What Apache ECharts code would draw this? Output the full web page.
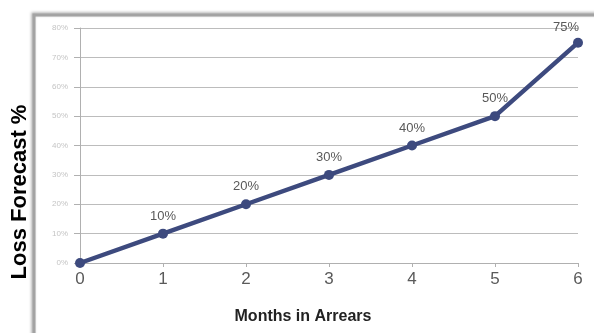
<!DOCTYPE html>
<html><head><meta charset="utf-8">
<script src="https://cdn.jsdelivr.net/npm/echarts@6/dist/echarts.min.js"></script>
<style>html,body{margin:0;padding:0;background:#fff}#c{width:594px;height:333px}</style>
</head><body><div id="c"></div>
<script>
const months = [0, 1, 2, 3, 4, 5, 6];
const lossForecast = [0, 10, 20, 30, 40, 50, 75];
const yTicks = [0, 10, 20, 30, 40, 50, 60, 70, 80];

const chart = echarts.init(document.getElementById('c'), null, {renderer: 'canvas'});
chart.setOption({
  animation: false,
  backgroundColor: '#fff',
  grid: {left: 80, right: 16, top: 28, bottom: 70},
  graphic: [
    {type: 'rect', z: 0, shape: {x: 34, y: 15, width: 640, height: 400},
     style: {fill: 'none', stroke: '#a3a3a3', lineWidth: 3, shadowColor: 'rgba(0,0,0,0.35)', shadowBlur: 3, shadowOffsetX: -1, shadowOffsetY: -1}},
    {type: 'text', z: 10, x: 20, y: 192, rotation: Math.PI / 2, originX: 0, originY: 0,
     style: {text: 'Loss Forecast %', font: 'bold 22px "Liberation Sans", Arial, sans-serif', fill: '#000', align: 'center', verticalAlign: 'middle'}},
    {type: 'text', z: 10, x: 303, y: 317,
     style: {text: 'Months in Arrears', font: 'bold 16px "Liberation Sans", Arial, sans-serif', fill: '#222', align: 'center', verticalAlign: 'middle'}}
  ],
  xAxis: {
    type: 'value', min: 0, max: 6, interval: 1,
    axisLine: {lineStyle: {color: '#b0b0b0', width: 1}},
    axisTick: {show: true, length: 4, lineStyle: {color: '#b0b0b0'}},
    axisLabel: {color: '#5a5a5a', fontSize: 17, margin: 8, fontFamily: '"Liberation Sans", Arial, sans-serif'},
    splitLine: {show: false}
  },
  yAxis: {
    type: 'value', min: 0, max: 80, interval: 10,
    axisLine: {show: true, lineStyle: {color: '#b0b0b0', width: 1}},
    axisTick: {show: true, length: 6, lineStyle: {color: '#b0b0b0'}},
    axisLabel: {color: '#c4c4c4', fontSize: 8, margin: 12, formatter: v => v + '%', fontFamily: '"Liberation Sans", Arial, sans-serif'},
    splitLine: {show: true, lineStyle: {color: '#bcbcbc', width: 1}}
  },
  series: [{
    type: 'line',
    data: months.map((m, i) => {
      const d = {value: [m, lossForecast[i]]};
      if (i === 0) d.label = {show: false};
      if (i === months.length - 1) d.label = {offset: [-12, 2]};
      return d;
    }),
    lineStyle: {color: '#3d4a7e', width: 4.5},
    itemStyle: {color: '#3d4a7e'},
    symbol: 'circle', symbolSize: 10,
    label: {show: true, position: 'top', distance: 6, formatter: p => p.value[1] + '%', color: '#595959', fontSize: 13, fontFamily: '"Liberation Sans", Arial, sans-serif'}
  }]
});
</script></body></html>
